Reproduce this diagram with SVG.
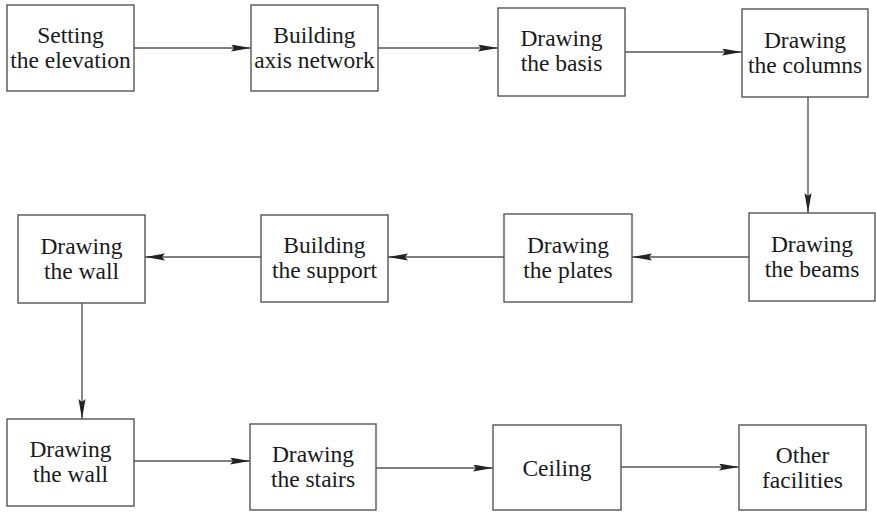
<svg xmlns="http://www.w3.org/2000/svg" width="876" height="512" viewBox="0 0 876 512">
<style>
.box{fill:#fff;stroke:#555;stroke-width:1.4}
.t{font-size:23.5px;fill:#1a1a1a;text-anchor:middle}
.c{stroke:#555;stroke-width:1.4;fill:none;marker-end:url(#ah)}
</style>
<defs>
<marker id="ah" markerUnits="userSpaceOnUse" markerWidth="22" markerHeight="8" refX="20" refY="3.5" orient="auto">
<path d="M0,0 L20,3.5 L0,7 L3,3.5 z" fill="#222"/>
</marker>
</defs>
<rect width="876" height="512" fill="#fff"/>
<g id="connectors">
<line class="c" x1="134" y1="48" x2="251" y2="48"/>
<line class="c" x1="378" y1="48" x2="498" y2="48"/>
<line class="c" x1="625" y1="52" x2="742" y2="52"/>
<line class="c" x1="808" y1="97" x2="808" y2="213"/>
<line class="c" x1="749" y1="257" x2="632" y2="257"/>
<line class="c" x1="504" y1="257" x2="388" y2="257"/>
<line class="c" x1="261" y1="257" x2="145" y2="257"/>
<line class="c" x1="82" y1="303" x2="82" y2="419"/>
<line class="c" x1="134" y1="461" x2="250" y2="461"/>
<line class="c" x1="376" y1="468" x2="493" y2="468"/>
<line class="c" x1="621" y1="467" x2="739" y2="467"/>
</g>
<g font-family="Liberation Serif, Times New Roman, serif">
<g id="n1"><rect class="box" x="7" y="5" width="127" height="86"/><text class="t" x="70.5" y="43">Setting</text><text class="t" x="70.5" y="68">the elevation</text></g>
<g id="n2"><rect class="box" x="251" y="5" width="127" height="86"/><text class="t" x="314.5" y="43">Building</text><text class="t" x="314.5" y="68">axis network</text></g>
<g id="n3"><rect class="box" x="498" y="8" width="127" height="88"/><text class="t" x="561.5" y="46">Drawing</text><text class="t" x="561.5" y="71">the basis</text></g>
<g id="n4"><rect class="box" x="742" y="9" width="126" height="88"/><text class="t" x="805" y="48">Drawing</text><text class="t" x="805" y="73">the columns</text></g>
<g id="n5"><rect class="box" x="749" y="213" width="126" height="88"/><text class="t" x="812" y="252">Drawing</text><text class="t" x="812" y="277">the beams</text></g>
<g id="n6"><rect class="box" x="504" y="214" width="128" height="88"/><text class="t" x="568" y="253">Drawing</text><text class="t" x="568" y="278">the plates</text></g>
<g id="n7"><rect class="box" x="261" y="215" width="127" height="87"/><text class="t" x="324.5" y="253">Building</text><text class="t" x="324.5" y="278">the support</text></g>
<g id="n8"><rect class="box" x="18" y="215" width="127" height="88"/><text class="t" x="81.5" y="254">Drawing</text><text class="t" x="81.5" y="279">the wall</text></g>
<g id="n9"><rect class="box" x="7" y="419" width="127" height="87"/><text class="t" x="70.5" y="457">Drawing</text><text class="t" x="70.5" y="482">the wall</text></g>
<g id="n10"><rect class="box" x="250" y="424" width="126" height="86"/><text class="t" x="313" y="462">Drawing</text><text class="t" x="313" y="487">the stairs</text></g>
<g id="n11"><rect class="box" x="493" y="425" width="128" height="85"/><text class="t" x="557" y="476">Ceiling</text></g>
<g id="n12"><rect class="box" x="739" y="425" width="127" height="85"/><text class="t" x="802.5" y="463">Other</text><text class="t" x="802.5" y="488">facilities</text></g>
</g>
</svg>
